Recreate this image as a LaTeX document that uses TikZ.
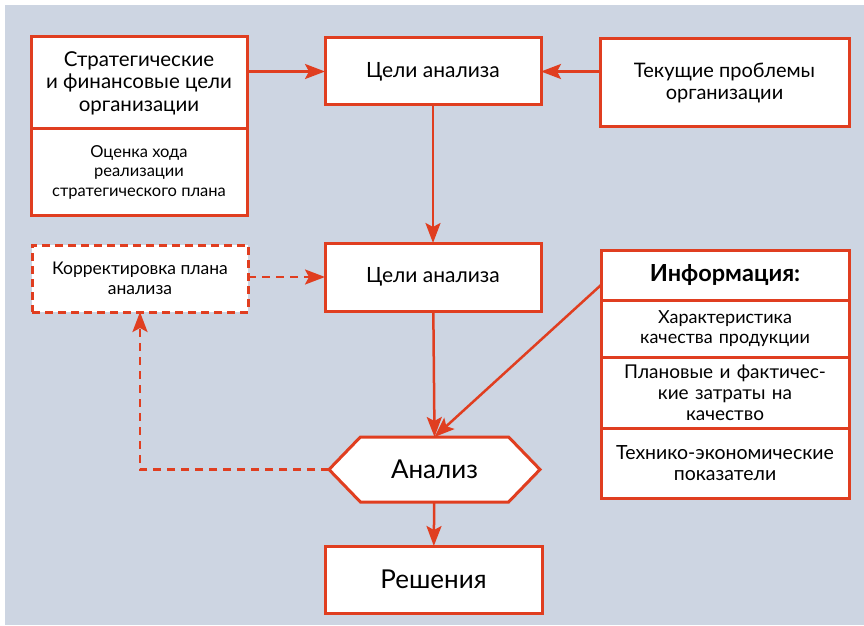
\documentclass[tikz,border=0pt]{standalone}
\usepackage{fontspec}
\setmainfont{Lato}
\usepackage{tikz}
\usetikzlibrary{positioning}
\usetikzlibrary{shapes.symbols}
\usetikzlibrary{arrows.meta}
\definecolor{redline}{RGB}{224,62,32}
\definecolor{panel}{RGB}{205,213,226}
\newcommand{\fs}[2]{\fontsize{#1pt}{#2pt}\selectfont}

\tikzset{
  box/.style={draw=redline, line width=3pt, fill=white, minimum width=216pt,
    align=center, inner sep=2pt, outer sep=0pt},
  infobox/.style={box, minimum width=248pt, text width=242pt},
  link/.style={draw=redline, line width=2.5pt,
    -{Stealth[length=20pt, width=15pt, inset=4pt]}},
  dashlink/.style={link, dash pattern=on 8pt off 6pt},
}

\begin{document}
\begin{tikzpicture}[x=1pt, y=1pt]
    \useasboundingbox (0,0) rectangle (864,625);
    \fill[panel] (5,0) rectangle (864,620);

    \node[box, minimum height=92pt, font=\fs{20.5}{22.5}] (strat) at (139,542)
      {Стратегические\\и финансовые цели\\организации};
    \node[box, minimum height=86pt, below=0pt of strat, font=\fs{16.5}{19.5}] (progress)
      {Оценка хода\\реализации\\стратегического плана};
    \node[box, minimum height=67pt, font=\fs{21}{20}] (goals) at (433,553.5) {Цели анализа};
    \node[box, minimum width=249pt, minimum height=88pt, font=\fs{20}{21.5}] (problems) at (724.5,542)
      {Текущие проблемы\\организации};
    \node[box, dash pattern=on 8pt off 5pt, minimum height=67pt, font=\fs{17.5}{20}] (correct) at (140,346.5)
      {Корректировка плана\\анализа};
    \node[box, minimum height=68pt, font=\fs{21}{20}] (goals2) at (433,348) {Цели анализа};

    \node[infobox, minimum height=50pt, font=\fs{23.5}{22}\bfseries] (info) at (725,350) {Информация:};
    \node[infobox, minimum height=57pt, below=0pt of info, font=\fs{18}{20.5}] (quality)
      {Характеристика\\качества продукции};
    \node[infobox, minimum height=71pt, below=0pt of quality, font=\fs{19}{21}] (costs)
      {Плановые и фактичес-\\кие затраты на\\качество};
    \node[infobox, minimum height=70pt, below=0pt of costs, font=\fs{19.5}{21.5}] (indic)
      {Технико-экономические\\показатели\\[8pt]};

    \node[box, signal, signal to=east and west, signal pointer angle=92,
      minimum width=211pt, minimum height=65pt, font=\fs{26}{26}] (analysis) at (434.5,155.5) {Анализ};
    \node[box, minimum width=217pt, minimum height=67pt, font=\fs{26}{26}] (decision) at (433.5,45.5) {Решения};

    % Connect the nodes
    \draw[link] (strat.east |- goals) -- (goals.west);
    \draw[link] (problems.west |- goals) -- (goals.east);
    \draw[link] (goals) -- (goals2);
    \draw[link] (goals2) -- (analysis.north);
    \draw[link] ([yshift=-10pt]info.west) -- (analysis.north);
    \draw[link] (analysis) -- (decision);
    \draw[dashlink] (correct.east |- goals2) -- (goals2.west);
    \draw[dashlink] (analysis.west) -| (correct.south);
\end{tikzpicture}
\end{document}
